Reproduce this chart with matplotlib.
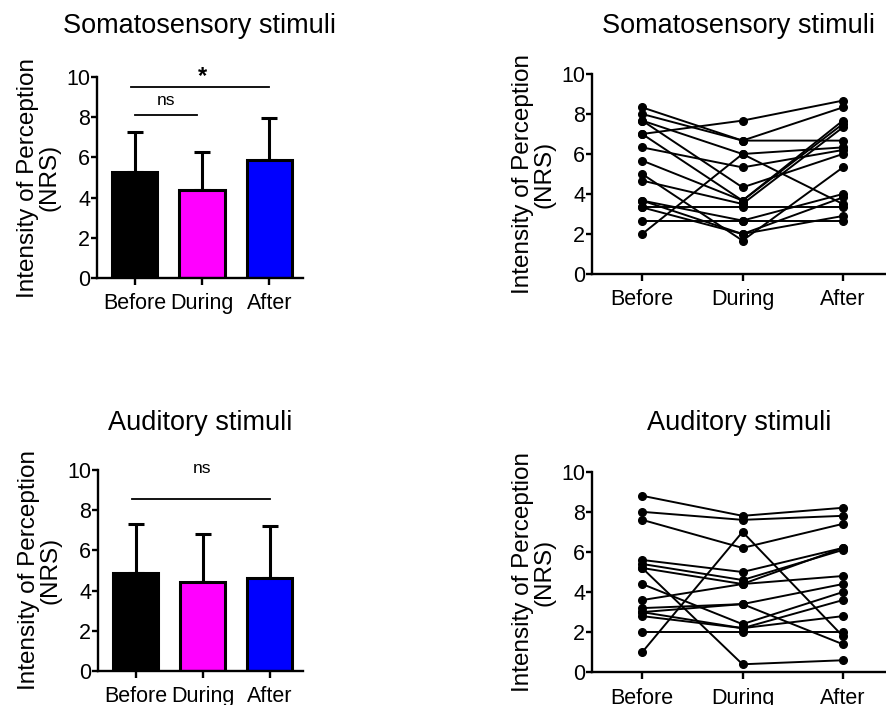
import numpy as np
import matplotlib
matplotlib.use("Agg")
import matplotlib.pyplot as plt

plt.rcParams['font.family'] = ['Liberation Sans', 'DejaVu Sans']

conditions = ["Before", "During", "After"]
bar_colors = ["#000000", "#FF00FF", "#0000FF"]

# group means and SD (bar panels)
soma_mean = [5.26, 4.38, 5.87]
soma_sd = [2.03, 1.88, 2.08]
aud_mean = [4.86, 4.43, 4.63]
aud_sd = [2.45, 2.39, 2.58]

# individual subjects, somatosensory
soma_before = [7.0, 8.33, 8.0, 7.67, 2.0, 6.33, 7.67, 7.0, 5.67, 4.67, 3.33, 3.67, 3.67, 2.67, 3.33, 5.0]
soma_during = [7.67, 6.67, 6.67, 6.0, 6.0, 5.33, 4.33, 3.67, 3.67, 3.5, 3.33, 2.67, 2.0, 2.67, 2.0, 1.67]
soma_after = [8.67, 8.33, 6.67, 3.5, 6.33, 6.2, 6.0, 7.67, 7.5, 7.33, 3.33, 4.0, 3.83, 2.67, 2.9, 5.33]

# individual subjects, auditory
aud_before = [8.8, 8.0, 7.6, 1.0, 5.6, 5.4, 5.2, 4.4, 3.6, 3.2, 3.0, 2.8, 3.0, 2.0, 5.2]
aud_during = [7.8, 7.6, 6.2, 7.0, 5.0, 4.6, 0.4, 2.4, 4.4, 3.4, 3.4, 2.2, 2.2, 2.0, 4.4]
aud_after = [8.2, 7.8, 7.4, 1.8, 6.2, 6.1, 0.6, 4.0, 4.8, 4.4, 1.4, 3.6, 2.8, 2.0, 6.2]

W, H = 887, 705
fig = plt.figure(figsize=(W / 100, H / 100), dpi=100)


def add_ax(left, right, top, bottom):
    return fig.add_axes([left / W, 1 - bottom / H, (right - left) / W, (bottom - top) / H])


def style(ax, xlim):
    for s in ["top", "right"]:
        ax.spines[s].set_visible(False)
    for s in ["left", "bottom"]:
        ax.spines[s].set_linewidth(1.7)
    ax.set_ylim(0, 10)
    ax.set_xlim(*xlim)
    ax.set_yticks([0, 2, 4, 6, 8, 10])
    ax.set_xticks(range(3))
    ax.set_xticklabels(conditions)
    ax.tick_params(axis="y", length=4, width=1.7, pad=1, labelsize=15.5)
    ax.tick_params(axis="x", length=5, width=1.7, pad=6, labelsize=15.5)
    ax.set_ylabel("Intensity of Perception\n(NRS)", fontsize=17.5, labelpad=4, linespacing=0.95)


def bar_panel(ax, means, sds):
    x = np.arange(3)
    ax.errorbar(x, means, yerr=[np.zeros(3), sds], fmt="none", ecolor="black",
                elinewidth=2.2, capsize=6, capthick=2.2, zorder=1)
    ax.bar(x, means, width=0.67, color=bar_colors, edgecolor="black", linewidth=2.2, zorder=2)
    style(ax, (-0.56, 2.5))


def line_panel(ax, before, during, after):
    x = np.arange(3)
    for b, d, a in zip(before, during, after):
        ax.plot(x, [b, d, a], color="black", lw=1.4, marker="o", ms=5.5, clip_on=False)
    style(ax, (-0.5, 2.43))


ax1 = add_ax(97, 303, 77.3, 277.7)
bar_panel(ax1, soma_mean, soma_sd)
ax1.plot([0, 0.92], [8.1, 8.1], color="black", lw=1.3)
ax1.text(0.46, 8.45, "ns", ha="center", va="bottom", fontsize=12.5)
ax1.plot([-0.05, 2.0], [9.5, 9.5], color="black", lw=1.3)
ax1.text(1.0, 9.45, "*", ha="center", va="bottom", fontsize=17, fontweight="bold")

ax2 = add_ax(592, 886, 74, 274)
line_panel(ax2, soma_before, soma_during, soma_after)

ax3 = add_ax(98, 303, 470, 671)
bar_panel(ax3, aud_mean, aud_sd)
ax3.plot([-0.05, 2.0], [8.56, 8.56], color="black", lw=1.3)
ax3.text(1.0, 9.7, "ns", ha="center", va="bottom", fontsize=12.5)

ax4 = add_ax(592, 886, 471.7, 672.3)
line_panel(ax4, aud_before, aud_during, aud_after)

# panel titles
fig.text(200 / W, 1 - 33 / H, "Somatosensory stimuli", ha="center", va="baseline", fontsize=19.5)
fig.text(739 / W, 1 - 33 / H, "Somatosensory stimuli", ha="center", va="baseline", fontsize=19.5)
fig.text(200 / W, 1 - 430 / H, "Auditory stimuli", ha="center", va="baseline", fontsize=19.5)
fig.text(739 / W, 1 - 430 / H, "Auditory stimuli", ha="center", va="baseline", fontsize=19.5)

fig.savefig("out.png", dpi=100)
